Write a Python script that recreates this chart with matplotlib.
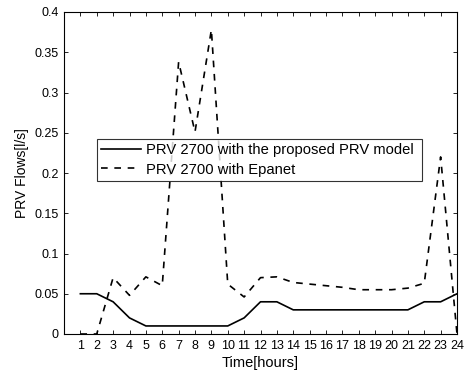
import matplotlib
matplotlib.use("Agg")
import matplotlib.pyplot as plt

hours = list(range(1, 25))
proposed = [0.05, 0.05, 0.04, 0.02, 0.01, 0.01, 0.01, 0.01, 0.01, 0.01, 0.02, 0.04,
            0.04, 0.03, 0.03, 0.03, 0.03, 0.03, 0.03, 0.03, 0.03, 0.04, 0.04, 0.05]
epanet = [0.0, 0.0, 0.07, 0.048, 0.071, 0.06, 0.338, 0.251, 0.378, 0.062, 0.046, 0.07,
          0.071, 0.064, 0.062, 0.06, 0.058, 0.055, 0.055, 0.055, 0.057, 0.063, 0.22, 0.0]
yticks = [0, 0.05, 0.1, 0.15, 0.2, 0.25, 0.3, 0.35, 0.4]
ylabels = ['0', '0.05', '0.1', '0.15', '0.2', '0.25', '0.3', '0.35', '0.4']

plt.rcParams['font.family'] = ['Liberation Sans', 'DejaVu Sans']
fig = plt.figure(figsize=(4.69, 3.75), dpi=100)
fig.set_facecolor('white')
ax = fig.add_axes([64/469, 41/375, 393/469, 322/375])

ax.plot(hours, proposed, 'k-', lw=1.2, label='PRV 2700 with the proposed PRV model')
ax.plot(hours, epanet, 'k--', lw=1.2, dashes=(4, 4), label='PRV 2700 with Epanet')

ax.set_xlim(0, 24)
ax.set_ylim(0, 0.4)
ax.set_xticks(hours)
ax.set_yticks(yticks)
ax.set_yticklabels(ylabels)
ax.tick_params(direction='in', top=True, right=True, labelsize=9, length=3, width=0.6, pad=4)
for s in ax.spines.values():
    s.set_linewidth(0.8)
ax.set_xlabel('Time[hours]', fontsize=10.5, labelpad=3)
ax.set_ylabel('PRV Flows[l/s]', fontsize=10, labelpad=4)

leg = ax.legend(loc='center', bbox_to_anchor=(0.084, 0.472, 0.827, 0.137), mode='expand',
                fontsize=10.6, frameon=True, fancybox=False, handlelength=2.7,
                borderpad=0.3, labelspacing=0.35, handletextpad=0.3, borderaxespad=0)
leg.get_frame().set_edgecolor('black')
leg.get_frame().set_linewidth(0.8)

fig.savefig('out.png', dpi=100)
